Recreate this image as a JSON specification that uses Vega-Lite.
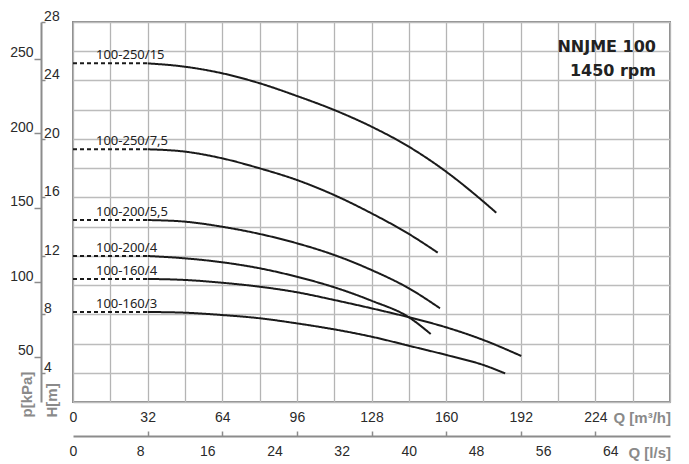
{
  "$schema": "https://vega.github.io/schema/vega-lite/v6.json",
  "width": 597,
  "height": 380,
  "autosize": "none",
  "padding": {"left": 73, "top": 22, "right": 19, "bottom": 62},
  "background": "white",
  "config": {
    "view": {"stroke": "#8c8c8c", "strokeWidth": 2},
    "axis": {"labelFlush": false, "labelOverlap": false, "labelBound": false, "labelFont": "Liberation Sans Narrow, Liberation Sans", "labelFontSize": 14, "labelColor": "#2a2a2a", "titleFont": "Liberation Sans", "titleFontWeight": "bold", "titleFontSize": 15, "titleColor": "#8a8a8a", "domainColor": "#8c8c8c", "domainWidth": 2, "tickColor": "#8c8c8c", "tickWidth": 1.5}
  },
  "title": {"text": ["NNJME 100", "1450 rpm"], "anchor": "end", "frame": "group", "orient": "top", "offset": -69, "dx": -14, "font": "DejaVu Sans", "fontWeight": "bold", "fontSize": 16, "lineHeight": 24, "color": "#222222"},
  "data": {"values": [
    {"pump": "100-250/15", "part": "dash", "Q": 0, "H": 25.17},
    {"pump": "100-250/15", "part": "dash", "Q": 32, "H": 25.17},
    {"pump": "100-250/15", "part": "solid", "Q": 32, "H": 25.17},
    {"pump": "100-250/15", "part": "solid", "Q": 48, "H": 24.94},
    {"pump": "100-250/15", "part": "solid", "Q": 64, "H": 24.49},
    {"pump": "100-250/15", "part": "solid", "Q": 80, "H": 23.81},
    {"pump": "100-250/15", "part": "solid", "Q": 96, "H": 22.94},
    {"pump": "100-250/15", "part": "solid", "Q": 112, "H": 21.98},
    {"pump": "100-250/15", "part": "solid", "Q": 128, "H": 20.84},
    {"pump": "100-250/15", "part": "solid", "Q": 144, "H": 19.47},
    {"pump": "100-250/15", "part": "solid", "Q": 160, "H": 17.76},
    {"pump": "100-250/15", "part": "solid", "Q": 176, "H": 15.71},
    {"pump": "100-250/15", "part": "solid", "Q": 181.5, "H": 14.95},
    {"pump": "100-250/7,5", "part": "dash", "Q": 0, "H": 19.29},
    {"pump": "100-250/7,5", "part": "dash", "Q": 32, "H": 19.29},
    {"pump": "100-250/7,5", "part": "solid", "Q": 32, "H": 19.29},
    {"pump": "100-250/7,5", "part": "solid", "Q": 48, "H": 19.13},
    {"pump": "100-250/7,5", "part": "solid", "Q": 64, "H": 18.67},
    {"pump": "100-250/7,5", "part": "solid", "Q": 80, "H": 17.99},
    {"pump": "100-250/7,5", "part": "solid", "Q": 96, "H": 17.19},
    {"pump": "100-250/7,5", "part": "solid", "Q": 112, "H": 16.16},
    {"pump": "100-250/7,5", "part": "solid", "Q": 128, "H": 14.91},
    {"pump": "100-250/7,5", "part": "solid", "Q": 144, "H": 13.5},
    {"pump": "100-250/7,5", "part": "solid", "Q": 156.4, "H": 12.22},
    {"pump": "100-200/5,5", "part": "dash", "Q": 0, "H": 14.45},
    {"pump": "100-200/5,5", "part": "dash", "Q": 32, "H": 14.45},
    {"pump": "100-200/5,5", "part": "solid", "Q": 32, "H": 14.45},
    {"pump": "100-200/5,5", "part": "solid", "Q": 48, "H": 14.34},
    {"pump": "100-200/5,5", "part": "solid", "Q": 64, "H": 13.99},
    {"pump": "100-200/5,5", "part": "solid", "Q": 80, "H": 13.5},
    {"pump": "100-200/5,5", "part": "solid", "Q": 96, "H": 12.86},
    {"pump": "100-200/5,5", "part": "solid", "Q": 112, "H": 12.06},
    {"pump": "100-200/5,5", "part": "solid", "Q": 128, "H": 11.03},
    {"pump": "100-200/5,5", "part": "solid", "Q": 144, "H": 9.78},
    {"pump": "100-200/5,5", "part": "solid", "Q": 157.4, "H": 8.41},
    {"pump": "100-200/4", "part": "dash", "Q": 0, "H": 11.99},
    {"pump": "100-200/4", "part": "dash", "Q": 32, "H": 11.99},
    {"pump": "100-200/4", "part": "solid", "Q": 32, "H": 11.99},
    {"pump": "100-200/4", "part": "solid", "Q": 48, "H": 11.83},
    {"pump": "100-200/4", "part": "solid", "Q": 64, "H": 11.56},
    {"pump": "100-200/4", "part": "solid", "Q": 80, "H": 11.15},
    {"pump": "100-200/4", "part": "solid", "Q": 96, "H": 10.57},
    {"pump": "100-200/4", "part": "solid", "Q": 112, "H": 9.85},
    {"pump": "100-200/4", "part": "solid", "Q": 128, "H": 8.93},
    {"pump": "100-200/4", "part": "solid", "Q": 144, "H": 7.8},
    {"pump": "100-200/4", "part": "solid", "Q": 153.4, "H": 6.65},
    {"pump": "100-160/4", "part": "dash", "Q": 0, "H": 10.42},
    {"pump": "100-160/4", "part": "dash", "Q": 32, "H": 10.42},
    {"pump": "100-160/4", "part": "solid", "Q": 32, "H": 10.42},
    {"pump": "100-160/4", "part": "solid", "Q": 48, "H": 10.35},
    {"pump": "100-160/4", "part": "solid", "Q": 64, "H": 10.16},
    {"pump": "100-160/4", "part": "solid", "Q": 80, "H": 9.89},
    {"pump": "100-160/4", "part": "solid", "Q": 96, "H": 9.51},
    {"pump": "100-160/4", "part": "solid", "Q": 112, "H": 8.98},
    {"pump": "100-160/4", "part": "solid", "Q": 128, "H": 8.41},
    {"pump": "100-160/4", "part": "solid", "Q": 144, "H": 7.8},
    {"pump": "100-160/4", "part": "solid", "Q": 160, "H": 7.11},
    {"pump": "100-160/4", "part": "solid", "Q": 176, "H": 6.24},
    {"pump": "100-160/4", "part": "solid", "Q": 192.2, "H": 5.15},
    {"pump": "100-160/3", "part": "dash", "Q": 0, "H": 8.16},
    {"pump": "100-160/3", "part": "dash", "Q": 32, "H": 8.16},
    {"pump": "100-160/3", "part": "solid", "Q": 32, "H": 8.16},
    {"pump": "100-160/3", "part": "solid", "Q": 48, "H": 8.11},
    {"pump": "100-160/3", "part": "solid", "Q": 64, "H": 7.95},
    {"pump": "100-160/3", "part": "solid", "Q": 80, "H": 7.73},
    {"pump": "100-160/3", "part": "solid", "Q": 96, "H": 7.38},
    {"pump": "100-160/3", "part": "solid", "Q": 112, "H": 6.97},
    {"pump": "100-160/3", "part": "solid", "Q": 128, "H": 6.47},
    {"pump": "100-160/3", "part": "solid", "Q": 144, "H": 5.85},
    {"pump": "100-160/3", "part": "solid", "Q": 160, "H": 5.22},
    {"pump": "100-160/3", "part": "solid", "Q": 176, "H": 4.53},
    {"pump": "100-160/3", "part": "solid", "Q": 185.3, "H": 3.96}
  ]},
  "layer": [
    {
      "encoding": {
        "x": {"field": "Q", "type": "quantitative", "scale": {"domain": [0, 256], "nice": false, "zero": false},
          "axis": {"values": [0, 16, 32, 48, 64, 80, 96, 112, 128, 144, 160, 176, 192, 208, 224, 240, 256], "grid": true, "gridColor": "#b4b4b4", "gridWidth": 1.3, "ticks": false, "domain": false, "labelExpr": "datum.value % 32 == 0 && datum.value < 256 ? datum.label : ''", "labelPadding": 8, "title": "Q [m³/h]", "titleX": 540, "titleY": 15, "titleAlign": "left", "titleBaseline": "middle", "titleAngle": 0}},
        "y": {"field": "H", "type": "quantitative", "scale": {"domain": [2, 28], "nice": false, "zero": false},
          "axis": {"orient": "left", "offset": 32, "values": [2, 4, 6, 8, 10, 12, 14, 16, 18, 20, 22, 24, 26, 28], "grid": true, "gridColor": "#bcbcbc", "gridWidth": 1.3, "domain": true, "tickSize": -4, "tickOpacity": {"condition": {"test": "datum.value % 4 == 0", "value": 1}, "value": 0}, "labelExpr": "datum.value % 4 == 0 ? datum.label : ''", "labelAlign": "left", "labelBaseline": "alphabetic", "labelPadding": 1.4, "labelOffset": -1.5, "title": "H[m]", "titleX": 10.5, "titleY": 395, "titleAngle": 270, "titleAlign": "left", "titleBaseline": "middle"}}
      },
      "layer": [
        {"mark": {"type": "line", "color": "#1a1a1a", "strokeWidth": 2, "interpolate": "monotone"},
         "encoding": {"detail": {"field": "pump"}, "strokeDash": {"field": "part", "type": "nominal", "scale": {"domain": ["dash", "solid"], "range": [[4, 3], [1, 0]]}, "legend": null}}},
        {"transform": [{"filter": "datum.part == 'dash' && datum.Q == 0"}],
         "mark": {"type": "text", "align": "left", "baseline": "alphabetic", "dx": 23, "dy": -4, "font": "Noto Sans", "fontSize": 13, "color": "#222222"},
         "encoding": {"text": {"field": "pump"}}}
      ]
    },
    {
      "mark": {"type": "line", "opacity": 0},
      "encoding": {
        "detail": {"field": "pump"},
        "x": {"field": "Q", "type": "quantitative", "scale": {"domain": [0, 256], "nice": false, "zero": false},
          "axis": {"orient": "bottom", "offset": 34, "values": [0, 28.8, 57.6, 86.4, 115.2, 144, 172.8, 201.6, 230.4], "labelExpr": "format(datum.value / 3.6, '.0f')", "grid": false, "ticks": false, "domain": true, "labelPadding": 8, "title": "Q [l/s]", "titleX": 555, "titleY": 16, "titleAlign": "left", "titleBaseline": "middle", "titleAngle": 0}},
        "y": {"field": "H", "type": "quantitative", "scale": {"domain": [2, 28], "nice": false, "zero": false},
          "axis": {"orient": "left", "offset": 32, "values": [5.0968, 10.1937, 15.2905, 20.3874, 25.4842], "labelExpr": "format(datum.value * 9.81, '.0f')", "grid": false, "domain": false, "tickSize": 7, "labelAlign": "right", "labelBaseline": "alphabetic", "labelPadding": 1, "labelOffset": -2, "title": "p[kPa]", "titleX": -14.5, "titleY": 395, "titleAngle": 270, "titleAlign": "left", "titleBaseline": "middle"}}
      }
    },
    {
      "mark": {"type": "line", "opacity": 0},
      "encoding": {
        "detail": {"field": "pump"},
        "x": {"field": "Q", "type": "quantitative", "scale": {"domain": [0, 256], "nice": false, "zero": false},
          "axis": {"orient": "bottom", "offset": 34, "values": [32, 64, 96, 128, 160, 192, 224], "grid": false, "domain": false, "labels": false, "tickSize": -5, "title": null}},
        "y": {"field": "H", "type": "quantitative", "scale": {"domain": [2, 28], "nice": false, "zero": false}, "axis": null}
      }
    }
  ],
  "resolve": {"scale": {"x": "independent", "y": "independent"}}
}
